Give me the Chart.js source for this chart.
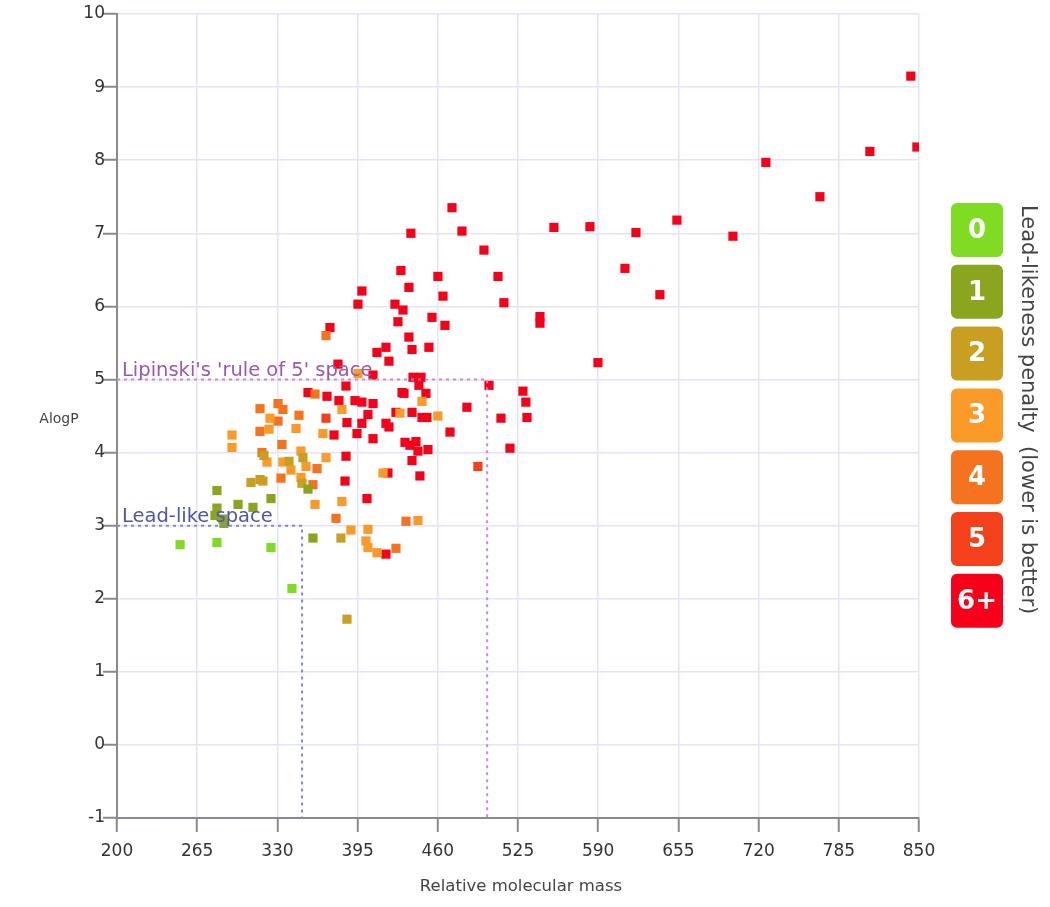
<!DOCTYPE html>
<html>
<head>
<meta charset="utf-8">
<script src="https://cdn.jsdelivr.net/npm/chart.js@4.4.1/dist/chart.umd.min.js"></script>
<style>
html,body{margin:0;padding:0;background:#fff;}
#c{display:block;}
</style>
</head>
<body>
<canvas id="c" width="1050" height="907"></canvas>
<script>
// ---- data (mass, AlogP) per lead-likeness penalty group ----
const penalty0 = [[251.1,2.74],[281.0,2.77],[324.8,2.70],[341.8,2.14]];
const penalty1 = [[281.0,3.48],[281.0,3.24],[279.4,3.14],[285.9,3.09],[286.7,3.03],[298.1,3.29],[310.2,3.25],[324.8,3.37],[354.8,3.50],[358.8,2.83]];
const penalty2 = [[308.6,3.59],[315.9,3.63],[318.3,3.61],[319.1,3.96],[339.4,3.88],[350.7,3.93],[349.9,3.58],[381.5,2.83],[386.4,1.72]];
const penalty3 = [[293.2,4.24],[293.2,4.07],[324.0,4.47],[323.2,4.32],[321.6,3.87],[334.5,3.87],[341.0,3.76],[349.1,4.02],[353.2,3.81],[349.1,3.66],[345.1,4.33],[369.4,3.93],[366.9,4.26],[382.3,4.59],[395.3,5.08],[360.5,3.29],[382.3,3.33],[415.6,3.72],[389.6,2.94],[403.4,2.95],[401.8,2.79],[403.4,2.70],[410.7,2.63],[443.9,3.07],[429.3,4.54],[460.1,4.50],[447.2,4.70]];
const penalty4 = [[315.9,4.60],[330.5,4.67],[334.5,4.59],[330.5,4.43],[315.9,4.29],[333.7,4.11],[317.5,4.00],[332.9,3.65],[358.8,3.56],[362.1,3.78],[347.5,4.51],[360.5,4.80],[369.4,5.60],[377.5,3.10],[434.2,3.06],[426.1,2.69]];
const penalty5 = [[492.5,3.81],[369.4,4.47]];
const penalty6 = [[843.4,9.15],[848.3,8.18],[810.2,8.12],[725.9,7.97],[769.7,7.50],[653.8,7.18],[620.6,7.01],[583.3,7.09],[554.1,7.08],[699.2,6.96],[611.7,6.52],[640.0,6.16],[589.8,5.23],[542.8,5.86],[542.8,5.77],
 [471.5,7.35],[479.6,7.03],[497.4,6.77],[508.8,6.41],[513.6,6.05],[438.2,7.00],[430.1,6.49],[436.6,6.26],[460.1,6.41],[464.2,6.14],[398.5,6.21],[395.3,6.03],[425.3,6.03],[431.8,5.95],[427.7,5.79],[455.3,5.85],[465.8,5.74],[436.6,5.58],[439.1,5.41],[452.8,5.44],[418.0,5.44],[410.7,5.37],[420.4,5.25],[372.6,5.71],[379.1,5.21],[385.6,4.91],[407.5,5.06],[439.9,5.03],[446.4,5.03],[444.7,4.92],[450.4,4.81],[501.5,4.92],[529.0,4.84],[531.4,4.69],[532.3,4.48],[511.2,4.47],[483.6,4.62],[518.5,4.06],
 [354.8,4.82],[370.2,4.77],[379.9,4.71],[392.9,4.71],[398.5,4.69],[407.5,4.67],[431.0,4.82],[432.6,4.81],[426.1,4.55],[439.1,4.55],[447.2,4.48],[451.2,4.48],[469.9,4.28],[418.0,4.40],[420.4,4.35],[407.5,4.19],[433.4,4.14],[437.4,4.10],[442.3,4.15],[443.9,4.02],[452.0,4.04],[439.1,3.89],[419.6,3.72],[445.5,3.68],[385.6,3.95],[384.8,3.61],[402.6,3.37],[418.0,2.61],[375.9,4.24],[386.4,4.41],[394.5,4.26],[398.5,4.40],[403.4,4.52]];

const groups = [penalty0, penalty1, penalty2, penalty3, penalty4, penalty5, penalty6];
const groupLabels = ['0','1','2','3','4','5','6+'];
const groupColors = ['#7fdc22','#8ca51e','#c99f22','#fa9a28','#f5721f','#f5401c','#f7001a'];

const xTicks = [200,265,330,395,460,525,590,655,720,785,850];
const yTicks = [-1,0,1,2,3,4,5,6,7,8,9,10];

const leadLikeBox = [[200,3],[350,3],[350,-1],[200,-1]];
const lipinskiBox = [[200,5],[500,5],[500,-1]];

const xTitle = 'Relative molecular mass';
const yTitle = 'AlogP';
const legendTitle = 'Lead-likeness penalty  (lower is better)';
const leadLikeLabel = 'Lead-like space';
const lipinskiLabel = "Lipinski's 'rule of 5' space";

// ---- build datasets ----
const toPts = arr => arr.map(p => ({x: p[0], y: p[1]}));
const datasets = [
  {data: toPts(lipinskiBox), showLine: true, borderColor: '#cf86e3', borderWidth: 2, borderDash: [3,4], pointRadius: 0, fill: false},
  {data: toPts(leadLikeBox), showLine: true, borderColor: '#8383e6', borderWidth: 2, borderDash: [3,4], pointRadius: 0, fill: false}
];
groups.forEach((g, i) => {
  datasets.push({data: toPts(g), pointStyle: 'rect', pointRadius: 6.5, pointHoverRadius: 6.5,
    backgroundColor: groupColors[i], borderColor: groupColors[i], borderWidth: 0, showLine: false});
});

const FONT = '"DejaVu Sans", Verdana, sans-serif';

const decor = {
  id: 'decor',
  afterDraw(chart) {
    const ctx = chart.ctx;
    const xs = chart.scales.x, ys = chart.scales.y;
    ctx.save();
    // region labels
    ctx.font = '19.5px ' + FONT;
    ctx.textAlign = 'left';
    ctx.textBaseline = 'bottom';
    ctx.fillStyle = '#9a58b0';
    ctx.fillText(lipinskiLabel, xs.getPixelForValue(200) + 5, ys.getPixelForValue(5) + 1);
    ctx.fillStyle = '#4f55b0';
    ctx.fillText(leadLikeLabel, xs.getPixelForValue(200) + 5, ys.getPixelForValue(3) + 1);
    // axis titles
    ctx.fillStyle = '#444';
    ctx.textAlign = 'center';
    ctx.textBaseline = 'middle';
    ctx.font = '14px ' + FONT;
    ctx.fillText(yTitle, 59, (chart.chartArea.top + chart.chartArea.bottom) / 2 + 3);
    ctx.font = '16.5px ' + FONT;
    ctx.fillText(xTitle, (chart.chartArea.left + chart.chartArea.right) / 2 + 3, 887);
    // legend boxes
    const bx = 951, bw = 52, bh = 54, top0 = 203, pitch = 61.8;
    groupLabels.forEach((lab, i) => {
      const y = top0 + i * pitch;
      ctx.fillStyle = groupColors[i];
      ctx.beginPath();
      ctx.roundRect(bx, y, bw, bh, 6);
      ctx.fill();
      ctx.fillStyle = '#fff';
      ctx.font = 'bold 26px ' + FONT;
      ctx.textAlign = 'center';
      ctx.textBaseline = 'middle';
      ctx.fillText(lab, bx + bw / 2, y + bh / 2 + 1);
    });
    // legend title (rotated)
    ctx.translate(1027, 205);
    ctx.rotate(Math.PI / 2);
    ctx.fillStyle = '#444';
    ctx.font = '21px ' + FONT;
    ctx.textAlign = 'left';
    ctx.textBaseline = 'middle';
    ctx.fillText(legendTitle, 0, 0);
    ctx.restore();
  }
};

new Chart(document.getElementById('c'), {
  type: 'scatter',
  data: {datasets},
  options: {
    responsive: false,
    animation: false,
    events: [],
    layout: {padding: {left: 0, right: 131, top: 14, bottom: 0}},
    plugins: {legend: {display: false}, tooltip: {enabled: false}},
    scales: {
      x: {
        type: 'linear', min: 200, max: 850,
        afterBuildTicks: s => { s.ticks = xTicks.map(v => ({value: v})); },
        afterFit: s => { s.height = 89; },
        grid: {color: '#e3e3fb', lineWidth: 1.5, tickColor: '#8a8a8a', tickLength: 14, tickWidth: 2},
        border: {color: '#8a8a8a', width: 2},
        ticks: {color: '#333', font: {family: FONT, size: 17}, padding: 9, maxRotation: 0}
      },
      y: {
        type: 'linear', min: -1, max: 10,
        afterBuildTicks: s => { s.ticks = yTicks.map(v => ({value: v})); },
        afterFit: s => { s.width = 117; },
        grid: {color: '#e3e3fb', lineWidth: 1.5, tickColor: '#8a8a8a', tickLength: 14, tickWidth: 2},
        border: {color: '#8a8a8a', width: 2},
        ticks: {color: '#333', font: {family: FONT, size: 17}, padding: -2}
      }
    }
  },
  plugins: [decor]
});
</script>
</body>
</html>
